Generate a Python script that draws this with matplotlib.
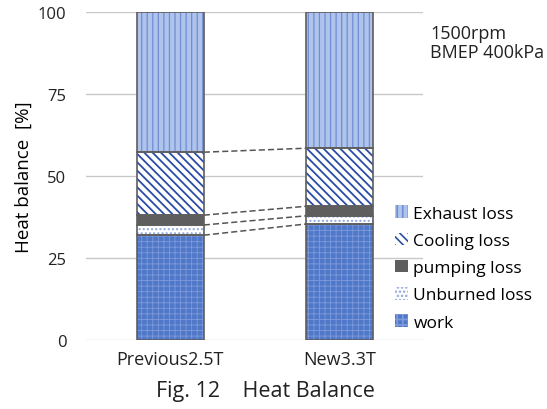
import numpy as np
import matplotlib
matplotlib.use("Agg")
import matplotlib.pyplot as plt

plt.rcParams['font.family'] = ['Open Sans', 'DejaVu Sans']
plt.rcParams['hatch.linewidth'] = 1.2

engines = ["Previous2.5T", "New3.3T"]
work = [32.0, 35.4]
unburned = [3.1, 2.5]
pumping = [3.0, 2.9]
cooling = [19.2, 17.7]
exhaust = [42.7, 41.5]

# name, values, face, hatch, hatch colour, hatch width
layers = [
    ("work", work, "#5078C9", "+++", "#7E9ADA", 0.6),
    ("Unburned loss", unburned, "white", "....", "#8FA8DE", 1.0),
    ("pumping loss", pumping, "#5E5E5E", None, "#5E5E5E", 1.0),
    ("Cooling loss", cooling, "white", "\\\\\\\\", "#2A4DA6", 1.3),
    ("Exhaust loss", exhaust, "#AFC3EB", "|||", "#6F8ED4", 0.9),
]

fig = plt.figure(figsize=(5.47, 4.10), dpi=100)
ax = fig.add_axes([0.157, 0.168, 0.616, 0.800])

x = np.arange(len(engines))
width = 0.396
bottom = np.zeros(len(engines))
handles = []
tops = []
for name, vals, fc, hatch, hc, hlw in layers:
    vals = np.array(vals)
    with plt.rc_context({'hatch.linewidth': hlw}):
        b = ax.bar(x, vals, width, bottom=bottom, color=fc, hatch=hatch,
                   edgecolor=hc, linewidth=0, label=name, zorder=3)
    ax.bar(x, vals, width, bottom=bottom, fill=False,
           edgecolor="#5E5E5E", linewidth=1.2, zorder=4)
    handles.append(b)
    bottom = bottom + vals
    tops.append(bottom.copy())

# dashed connector lines (work, unburned, pumping, cooling tops)
for t in tops[:4]:
    ax.plot([x[0] + width / 2, x[1] - width / 2], [t[0], t[1]],
            ls=(0, (4, 2)), color="#555555", lw=1.1, zorder=2)

ax.set_xlim(-0.5, 1.494)
ax.set_ylim(0, 100)
ax.set_yticks([0, 25, 50, 75, 100])
ax.yaxis.grid(True, color="#C8C8C8", lw=1.0, zorder=0)
ax.set_axisbelow(True)
for s in ax.spines.values():
    s.set_visible(False)
ax.tick_params(axis="both", length=0, colors="#222222")
ax.tick_params(axis="y", pad=14, labelsize=12)
ax.set_xticks(x)
ax.set_xticklabels(engines, fontsize=13)
ax.tick_params(axis="x", pad=7)
ax.set_ylabel("Heat balance  [%]", fontsize=13.5)
ax.yaxis.set_label_coords(-0.157, 0.5)

leg = ax.legend(handles[::-1], [l[0] for l in layers][::-1],
                loc="center left", bbox_to_anchor=(0.897, 0.22),
                frameon=False, fontsize=12.5, handlelength=0.75,
                handleheight=0.75, handletextpad=0.3, labelspacing=0.62,
                borderaxespad=0)

fig.text(0.786, 0.94, "1500rpm\nBMEP 400kPa", fontsize=13,
         va="top", ha="left", linespacing=1.1, color="#222222")
fig.text(0.485, 0.02, "Fig. 12    Heat Balance", fontsize=15.5,
         ha="center", va="bottom", color="#222222")

fig.savefig("out.png", dpi=100)
